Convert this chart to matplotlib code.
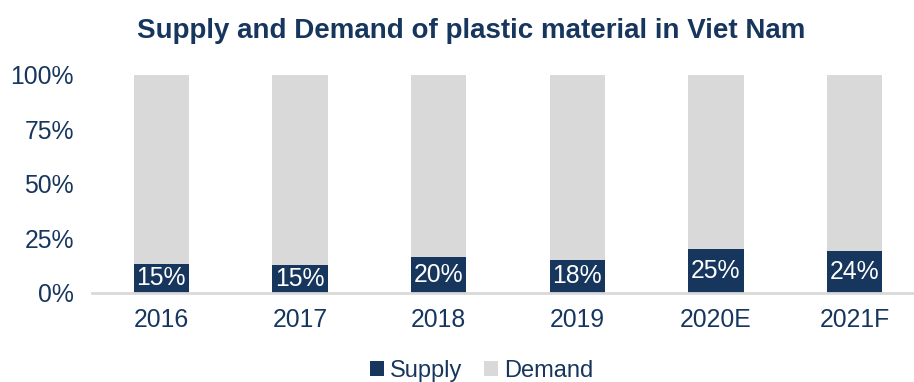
# 100% stacked bars: supply vs demand of plastic material, Viet Nam
import matplotlib
matplotlib.use("Agg")
import matplotlib.pyplot as plt
import numpy as np

years = ["2016", "2017", "2018", "2019", "2020E", "2021F"]
# supply as a share of demand (the label printed on each bar)
supply_ratio = [0.151, 0.146, 0.196, 0.178, 0.248, 0.237]
demand = [1.0, 1.0, 1.0, 1.0, 1.0, 1.0]

navy = "#17365D"
grey = "#D9D9D9"

plt.rcParams["font.family"] = ["Liberation Sans", "DejaVu Sans"]

supply = np.array(supply_ratio)
dem = np.array(demand)
total = supply + dem
s_share = supply / total
d_share = dem / total

fig = plt.figure(figsize=(9.14, 3.82), dpi=100)
ax = fig.add_axes([92 / 914, 0.234, 832 / 914, 0.570])

x = np.arange(len(years))
w = 0.4
ax.bar(x, s_share, w, color=navy, label="Supply")
ax.bar(x, d_share, w, bottom=s_share, color=grey, label="Demand")

for i in range(len(years)):
    ax.text(x[i], s_share[i] / 2, f"{supply_ratio[i]:.0%}", ha="center", va="center",
            color="white", fontsize=17.8)

ax.set_xlim(-0.5, 5.5)
ax.set_ylim(0, 1)
ax.set_yticks([0, 0.25, 0.5, 0.75, 1.0])
ax.set_yticklabels(["0%", "25%", "50%", "75%", "100%"])
ax.set_xticks(x)
ax.set_xticklabels(years)
ax.tick_params(axis="both", length=0, labelsize=17.8, labelcolor=navy)
ax.tick_params(axis="x", pad=11)
ax.tick_params(axis="y", pad=13)

for s in ["top", "right", "left"]:
    ax.spines[s].set_visible(False)
ax.spines["bottom"].set_color(grey)
ax.spines["bottom"].set_linewidth(2)

fig.text(0.515, 0.92, "Supply and Demand of plastic material in Viet Nam",
         ha="center", va="center", fontsize=20, fontweight="bold", color=navy)

leg = fig.legend(loc="center", bbox_to_anchor=(0.527, 0.03), ncol=2, frameon=False,
                 fontsize=17, handlelength=0.6, handleheight=0.6, handletextpad=0.25,
                 columnspacing=0.9)
for t in leg.get_texts():
    t.set_color(navy)

fig.savefig("out.png", dpi=100)
